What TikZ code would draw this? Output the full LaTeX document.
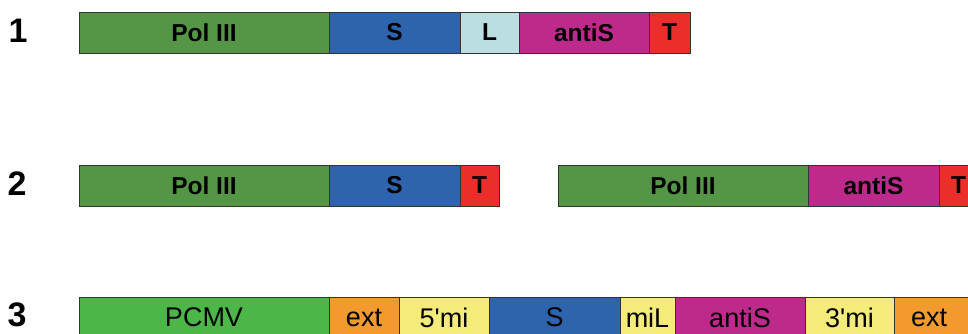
\documentclass[tikz,border=0pt]{standalone}
\usepackage{fontspec}
\setmainfont{Liberation Sans}
\definecolor{polg}{RGB}{85,149,70}
\definecolor{sblue}{RGB}{46,100,174}
\definecolor{lblue}{RGB}{187,222,226}
\definecolor{mag}{RGB}{190,42,140}
\definecolor{tred}{RGB}{236,46,42}
\definecolor{cmvg}{RGB}{76,183,72}
\definecolor{orng}{RGB}{243,154,46}
\definecolor{yel}{RGB}{245,235,122}
\newcommand{\lowtxt}[1]{\raisebox{-5pt}{#1}}
\tikzset{
  seg/.style={draw=black!80, line width=0.9pt, rectangle, anchor=north west, minimum height=41pt, inner sep=0pt, outer sep=0pt, font=\fontsize{24.5}{24.5}\selectfont\bfseries},
  segr/.style={seg, font=\fontsize{27}{27}\selectfont},
  rownum/.style={font=\fontsize{34}{34}\selectfont\bfseries, inner sep=0pt}
}
\begin{document}
\begin{tikzpicture}[x=1pt,y=-1pt]
\useasboundingbox (0,0) rectangle (968,333);
% row 1
\node[rownum] (n1) at (18,31) {1};
\node[seg, fill=polg, minimum width=250pt] (a1) at (79,12) {Pol III};
\node[seg, fill=sblue, minimum width=131pt] (a2) at (329,12) {S};
\node[seg, fill=lblue, minimum width=59pt] (a3) at (460,12) {L};
\node[seg, fill=mag, minimum width=130pt] (a4) at (519,12) {antiS};
\node[seg, fill=tred, minimum width=41pt] (a5) at (649,12) {T};
% row 2
\node[rownum] (n2) at (17,184) {2};
\node[seg, fill=polg, minimum width=250pt] (b1) at (79,165) {Pol III};
\node[seg, fill=sblue, minimum width=131pt] (b2) at (329,165) {S};
\node[seg, fill=tred, minimum width=39pt] (b3) at (460,165) {T};
\node[seg, fill=polg, minimum width=250pt] (c1) at (558,165) {Pol III};
\node[seg, fill=mag, minimum width=131pt] (c2) at (808,165) {antiS};
\node[seg, fill=tred, minimum width=39pt] (c3) at (939,165) {T};
% row 3
\node[rownum] (n3) at (17,315) {3};
\node[segr, fill=cmvg, minimum width=250pt] (d1) at (79,297) {\lowtxt{PCMV}};
\node[segr, fill=orng, minimum width=70pt] (d2) at (329,297) {\lowtxt{ext}};
\node[segr, fill=yel, minimum width=90pt] (d3) at (399,297) {\lowtxt{5\textquotesingle mi}};
\node[segr, fill=sblue, minimum width=131pt] (d4) at (489,297) {\lowtxt{S}};
\node[segr, fill=yel, minimum width=55pt] (d5) at (620,297) {\lowtxt{miL}};
\node[segr, fill=mag, minimum width=130pt] (d6) at (675,297) {\lowtxt{antiS}};
\node[segr, fill=yel, minimum width=89pt] (d7) at (805,297) {\lowtxt{3\textquotesingle mi}};
\node[segr, fill=orng, minimum width=80pt] (d8) at (894,297) {\lowtxt{\hspace*{-10pt}ext}};
\end{tikzpicture}
\end{document}
